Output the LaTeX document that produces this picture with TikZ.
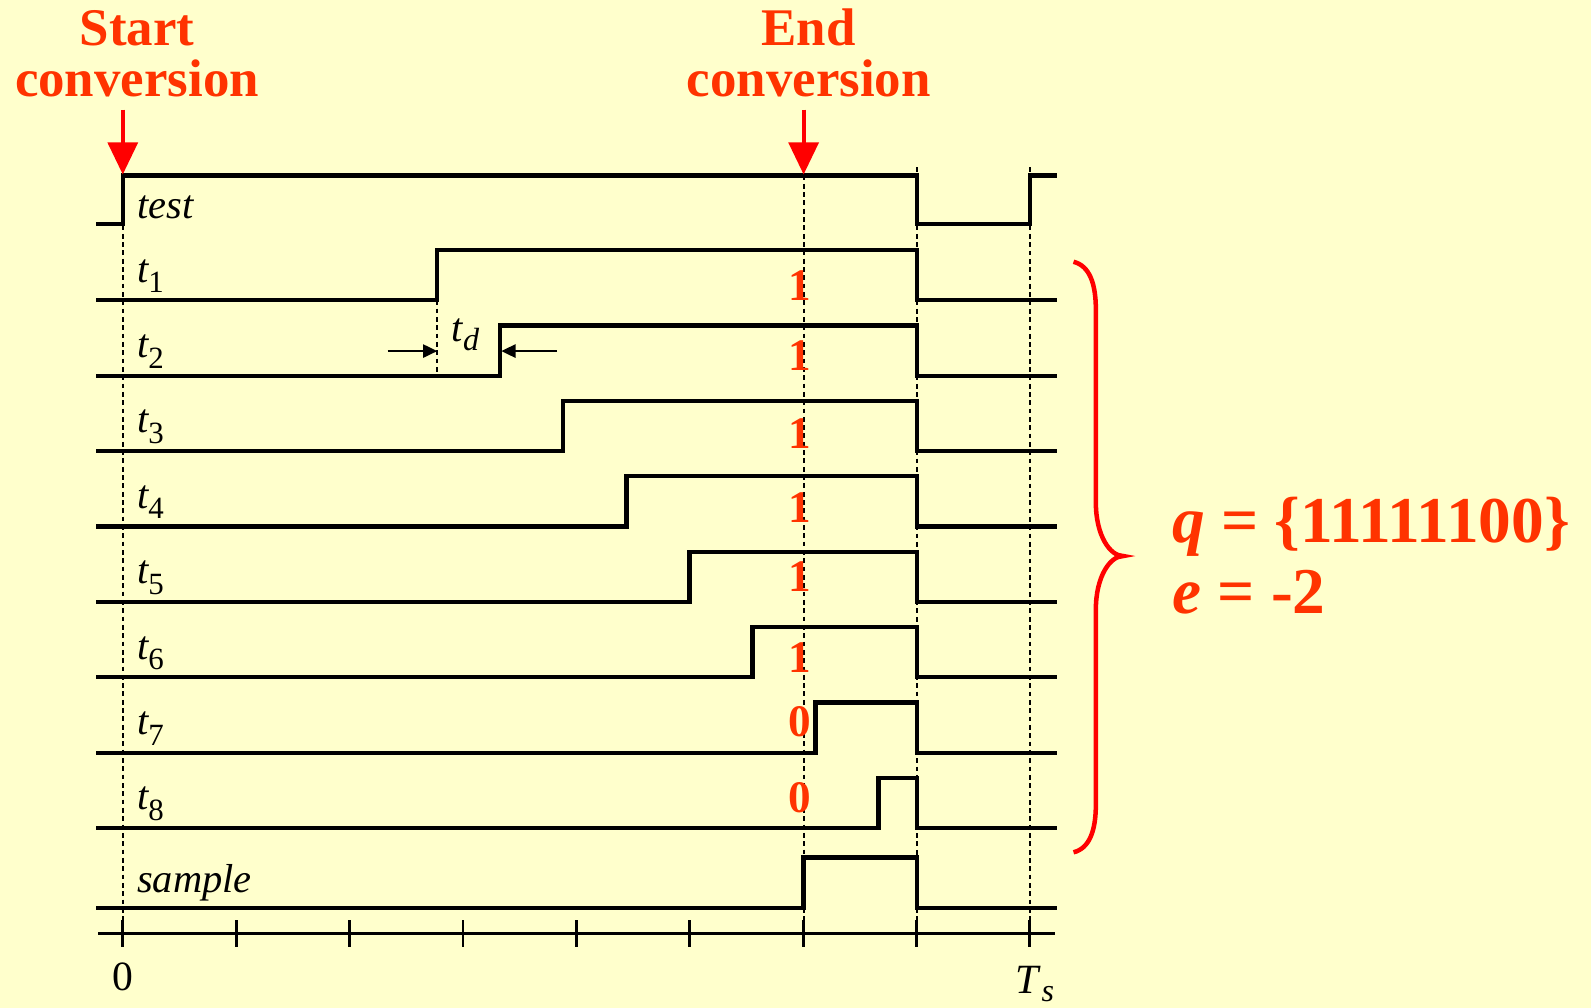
\documentclass[tikz,border=0pt]{standalone}
\usepackage{fontspec}
\setmainfont{Liberation Serif}
\usepackage{tikz}
\usetikzlibrary{arrows.meta,positioning,calc}
\definecolor{paper}{HTML}{FFFFCC}
\definecolor{labelred}{HTML}{FF3300}
\definecolor{markred}{HTML}{FF0000}

\newcommand{\signame}[2]{\textit{#1}\raisebox{-9pt}{\fontsize{26}{26}\selectfont\upshape #2}}
\newcommand{\sigsub}[2]{\textit{#1}\raisebox{-7pt}{\fontsize{27}{27}\selectfont\itshape #2}}

\begin{document}
\begin{tikzpicture}[x=0.03cm, y=-0.03cm,
  wave/.style={line width=3.6pt, line join=miter, line cap=rect},
  guide/.style={line width=1.8pt, dash pattern=on 4pt off 3pt},
  timeaxis/.style={line width=1.7pt},
  tickmark/.style={line width=2.4pt},
  sigtext/.style={font=\fontsize{34}{40}\selectfont\itshape, anchor=base west, inner sep=0pt},
  bit/.style={font=\fontsize{38}{40}\selectfont\bfseries, text=labelred, anchor=base, inner sep=0pt},
  head/.style={font=\fontsize{44.5}{50}\selectfont\bfseries, text=labelred, anchor=base, inner sep=0pt},
  pointer/.style={-{Triangle[width=25pt,length=27pt]}, line width=3.4pt, draw=markred},
  dim/.style={-{Triangle[width=11pt,length=12pt]}, line width=2pt},
  result/.style={font=\fontsize{55}{60}\selectfont\bfseries, text=labelred, anchor=base west, inner sep=0pt},
  ticklabel/.style={font=\fontsize{35}{40}\selectfont, anchor=base, inner sep=0pt}
]

  \fill[paper] (0,0) rectangle (1568,993);
  \useasboundingbox (0,0) rectangle (1568,993);

  % headings and markers
  \node[head] (start1) at (135,45) {Start};
  \node[head] (start2) at (135,95) {conversion};
  \node[head] (end1)   at (797,45) {End};
  \node[head] (end2)   at (797,95) {conversion};
  \coordinate (startTail) at (121,108);
  \coordinate (startTip)  at (121,172);
  \coordinate (endTail)   at (792,108);
  \coordinate (endTip)    at (792,172);

  % dashed guides
  \draw[guide] (121,173) -- (121,935);
  \draw[guide] (792,173) -- (792,935);
  \draw[guide] (904,165) -- (904,935);
  \draw[guide] (1015,165) -- (1015,935);
  \draw[guide] (431,296) -- (431,370);

  % test
  \draw[wave] (97,221) -- (121,221) -- (121,173) -- (904,173) -- (904,221)
              -- (1015,221) -- (1015,173) -- (1040,173);
  \node[sigtext] (test) at (135,215) {test};

  % delay line outputs
  \foreach \i/\b/\dy in {1/1/0,2/1/5,3/1/3,4/1/4,5/1/10,6/1/5,7/0/16,8/0/15} {
    \pgfmathsetmacro\lo{296+(\i-1)*74.3}
    \pgfmathsetmacro\hi{\lo-49.5}
    \pgfmathsetmacro\up{431+(\i-1)*62.1}
    \draw[wave] (97,\lo) -- (\up,\lo) -- (\up,\hi) -- (904,\hi) -- (904,\lo) -- (1040,\lo);
    \node[sigtext] (t\i) at (135,\lo-18) {\signame{t}{\i}};
    \node[bit] (b\i) at (788,\lo-\dy) {\b};
  }

  % sample
  \draw[wave] (97,895) -- (792,895) -- (792,845) -- (904,845) -- (904,895) -- (1040,895);
  \node[sigtext] (sample) at (135,880) {sample};

  % t_d
  \node[sigtext] (td) at (445,337) {\sigsub{t}{d}};
  \coordinate (tdLeft)  at (382,346);
  \coordinate (tdA)     at (431,346);
  \coordinate (tdRight) at (549,346);
  \coordinate (tdB)     at (494,346);
  \draw[dim] (tdLeft) -- (tdA);
  \draw[dim] (tdRight) -- (tdB);

  % time axis
  \draw[timeaxis] (97,920) -- (1040,920);
  \foreach \k in {0,...,8}
    \draw[tickmark] (121+\k*111.75,907) -- (121+\k*111.75,933);
  \node[ticklabel] (zero) at (121,976) {0};
  \node[ticklabel] (ts)   at (1020,979) {\sigsub{T}{s}};

  \draw[pointer] (startTail) -- (startTip);
  \draw[pointer] (endTail) -- (endTip);

  % brace and result
  \draw[markred, line width=3.8pt]
    (1058,258) .. controls (1074,262) and (1080,280) .. (1080,305)
    -- (1080,495) .. controls (1080,528) and (1094,548) .. (1107,548)
    .. controls (1094,548) and (1080,568) .. (1080,601)
    -- (1080,793) .. controls (1080,818) and (1074,836) .. (1058,840);
  \node[result] (qval) at (1155,535) {\textit{q} = \{11111100\}};
  \node[result] (eval) at (1155,605) {\textit{e} = -2};

\end{tikzpicture}
\end{document}
